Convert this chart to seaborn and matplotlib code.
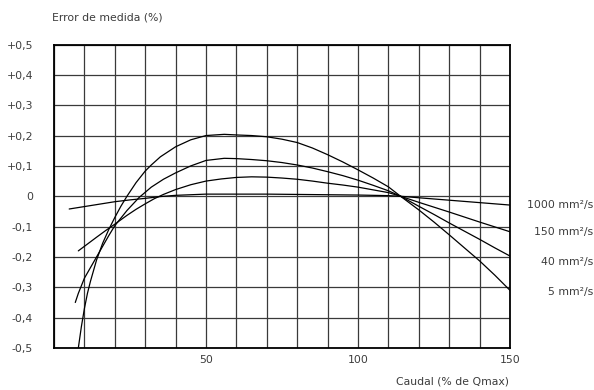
import matplotlib
matplotlib.use("Agg")
import matplotlib.pyplot as plt
import seaborn as sns
import pandas as pd

# ---- data ----
x_5 = [8, 9, 10, 11, 12, 14, 16, 18, 20, 22, 24, 27, 30, 32, 35, 40, 45, 50, 56, 60, 65, 70, 75,
       80, 85, 90, 95, 100, 105, 110, 114, 120, 125, 130, 135, 140, 145, 150]
y_5 = [-0.5, -0.43, -0.37, -0.32, -0.28, -0.21, -0.155, -0.11, -0.07, -0.033, 0.0, 0.045, 0.083,
       0.103, 0.13, 0.163, 0.186, 0.2, 0.204, 0.202, 0.2, 0.196, 0.188, 0.177, 0.159, 0.137,
       0.113, 0.087, 0.06, 0.031, 0.0, -0.045, -0.085, -0.127, -0.17, -0.213, -0.26, -0.31]

x_40 = [7, 8, 10, 12, 14, 16, 18, 20, 24, 28, 32, 36, 40, 45, 50, 56, 60, 65, 70, 75, 80,
        85, 90, 95, 100, 105, 110, 114, 120, 125, 130, 135, 140, 145, 150]
y_40 = [-0.35, -0.32, -0.27, -0.235, -0.2, -0.165, -0.13, -0.097, -0.047, -0.004, 0.03, 0.056,
        0.077, 0.1, 0.118, 0.125, 0.124, 0.121, 0.117, 0.111, 0.103, 0.093, 0.081,
        0.068, 0.053, 0.036, 0.018, 0.0, -0.033, -0.06, -0.088, -0.115, -0.142, -0.17, -0.197]

x_150 = [8, 10, 12, 14, 17, 20, 24, 27, 30, 33, 36, 40, 45, 50, 55, 60, 65, 70, 75, 80, 85, 90,
         95, 100, 105, 110, 114, 120, 130, 140, 150]
y_150 = [-0.18, -0.165, -0.15, -0.135, -0.113, -0.092, -0.063, -0.043, -0.025, -0.008, 0.006,
         0.022, 0.038, 0.05, 0.057, 0.062, 0.064, 0.063, 0.06, 0.056, 0.05, 0.043, 0.037, 0.03,
         0.021, 0.012, 0.0, -0.02, -0.052, -0.085, -0.117]

x_1000 = [5, 10, 15, 20, 25, 30, 35, 40, 50, 60, 70, 80, 90, 100, 110, 114, 120, 130, 140, 150]
y_1000 = [-0.042, -0.034, -0.026, -0.018, -0.012, -0.007, -0.001, 0.003, 0.007, 0.007, 0.007,
          0.006, 0.005, 0.004, 0.002, 0.0, -0.005, -0.013, -0.021, -0.029]

series_labels = ["1000 mm²/s", "150 mm²/s", "40 mm²/s", "5 mm²/s"]
label_y = [-0.028, -0.118, -0.216, -0.316]

y_ticks = [0.5, 0.4, 0.3, 0.2, 0.1, 0.0, -0.1, -0.2, -0.3, -0.4, -0.5]
y_tick_labels = ["+0,5", "+0,4", "+0,3", "+0,2", "+0,1", "0", "-0,1", "-0,2", "-0,3", "-0,4", "-0,5"]
x_ticks = list(range(0, 151, 10))
x_tick_labels = ["" if v not in (50, 100, 150) else str(v) for v in x_ticks]

df = pd.concat([
    pd.DataFrame({"x": x_1000, "y": y_1000, "v": series_labels[0]}),
    pd.DataFrame({"x": x_150, "y": y_150, "v": series_labels[1]}),
    pd.DataFrame({"x": x_40, "y": y_40, "v": series_labels[2]}),
    pd.DataFrame({"x": x_5, "y": y_5, "v": series_labels[3]}),
])

sns.set_style("white")
plt.rcParams["font.family"] = ["DejaVu Sans"]
txt = "#3c3c3c"
fs = 7.8

fig = plt.figure(figsize=(5.94, 3.9), dpi=100)
ax = fig.add_axes([54 / 594, 1 - 348 / 390, 456 / 594, 303.5 / 390])

sns.lineplot(data=df, x="x", y="y", hue="v", palette=["black"] * 4, sort=False,
             legend=False, linewidth=0.9, ax=ax, estimator=None)

ax.set_xlim(0, 150)
ax.set_ylim(-0.5, 0.5)
ax.set_xticks(x_ticks)
ax.set_xticklabels(x_tick_labels)
ax.set_yticks(y_ticks)
ax.set_yticklabels(y_tick_labels)
ax.tick_params(axis="both", length=0, labelsize=fs, colors=txt)
ax.tick_params(axis="y", pad=15)
ax.tick_params(axis="x", pad=5)
ax.grid(True, color="#3a3a3a", linewidth=0.9)
ax.set_axisbelow(True)
for s in ax.spines.values():
    s.set_visible(True)
    s.set_color("black")
    s.set_linewidth(1.3)
ax.set_xlabel("")
ax.set_ylabel("")

fig.text(52 / 594, 1 - 17 / 390, "Error de medida (%)", fontsize=fs, color=txt,
         ha="left", va="center")
fig.text(509 / 594, 1 - 381 / 390, "Caudal (% de Qmax)", fontsize=fs, color=txt,
         ha="right", va="center")
for lab, yv in zip(series_labels, label_y):
    ax.annotate(lab, xy=(1, yv), xycoords=("axes fraction", "data"),
                xytext=(593 / 594, 0), textcoords=("figure fraction", "offset points"),
                ha="right", va="center", fontsize=fs, color=txt)

fig.savefig("out.png", dpi=100)
